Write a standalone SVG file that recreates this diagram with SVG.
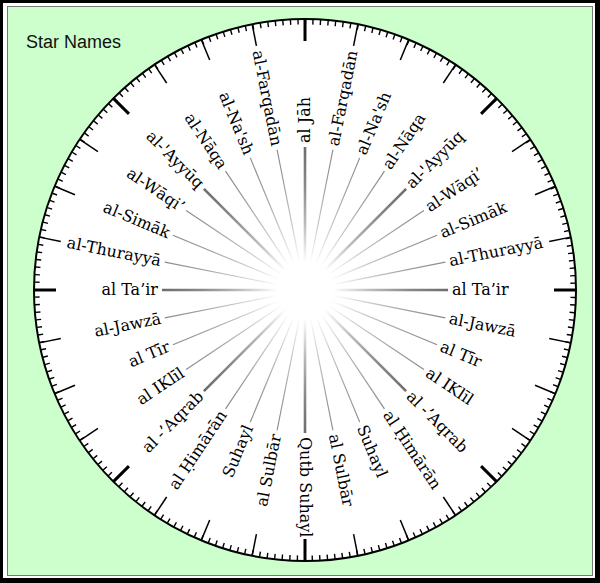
<svg xmlns="http://www.w3.org/2000/svg" width="600" height="583" viewBox="0 0 600 583">
<style>
.lbl{font-family:"DejaVu Serif","Liberation Serif",serif;font-size:16px;fill:#000;}
.r{text-anchor:start;}
.l{text-anchor:end;}
.title{font-family:"Liberation Sans",Arial,sans-serif;font-size:18px;fill:#111;}
.sp{stroke:#888;stroke-width:1.2;}
.sp.m{stroke:#6a6a6a;stroke-width:2.6;}
.tk{stroke:#000;stroke-width:1.5;}
.tk.m{stroke-width:3;}
</style>
<defs>
<radialGradient id="fade" cx="0.5" cy="0.5" r="0.5">
<stop offset="0.19" stop-color="#000"/>
<stop offset="0.25" stop-color="#1a1a1a"/>
<stop offset="0.45" stop-color="#737373"/>
<stop offset="0.72" stop-color="#cccccc"/>
<stop offset="1" stop-color="#fff"/>
</radialGradient>
<mask id="spokeMask" maskUnits="userSpaceOnUse" x="0" y="0" width="600" height="583">
<circle cx="305" cy="290" r="146" fill="url(#fade)"/>
</mask>
</defs>
<g id="frame">
<rect x="0" y="0" width="600" height="583" fill="#000"/>
<rect x="3" y="3" width="592" height="575" fill="#fff"/>
<rect x="7.5" y="6.5" width="585" height="569" fill="#ccffcc" stroke="#777" stroke-width="1"/>
</g>
<g id="title"><text class="title" x="26" y="48">Star Names</text></g>
<g id="dial">
<circle cx="305" cy="290" r="271" fill="#fff" stroke="#000" stroke-width="2"/>
<circle cx="305" cy="290" r="268" fill="none" stroke="#000" stroke-width="5" stroke-dasharray="1.4 6.1173" stroke-dashoffset="0.7"/>
<g id="ticks">
<line class="tk m" x1="554" y1="290" x2="576" y2="290" transform="rotate(0 305 290)"/>
<line class="tk" x1="554" y1="290" x2="576" y2="290" transform="rotate(11.25 305 290)"/>
<line class="tk" x1="554" y1="290" x2="576" y2="290" transform="rotate(22.5 305 290)"/>
<line class="tk" x1="554" y1="290" x2="576" y2="290" transform="rotate(33.75 305 290)"/>
<line class="tk m" x1="554" y1="290" x2="576" y2="290" transform="rotate(45 305 290)"/>
<line class="tk" x1="554" y1="290" x2="576" y2="290" transform="rotate(56.25 305 290)"/>
<line class="tk" x1="554" y1="290" x2="576" y2="290" transform="rotate(67.5 305 290)"/>
<line class="tk" x1="554" y1="290" x2="576" y2="290" transform="rotate(78.75 305 290)"/>
<line class="tk m" x1="554" y1="290" x2="576" y2="290" transform="rotate(90 305 290)"/>
<line class="tk" x1="554" y1="290" x2="576" y2="290" transform="rotate(101.25 305 290)"/>
<line class="tk" x1="554" y1="290" x2="576" y2="290" transform="rotate(112.5 305 290)"/>
<line class="tk" x1="554" y1="290" x2="576" y2="290" transform="rotate(123.75 305 290)"/>
<line class="tk m" x1="554" y1="290" x2="576" y2="290" transform="rotate(135 305 290)"/>
<line class="tk" x1="554" y1="290" x2="576" y2="290" transform="rotate(146.25 305 290)"/>
<line class="tk" x1="554" y1="290" x2="576" y2="290" transform="rotate(157.5 305 290)"/>
<line class="tk" x1="554" y1="290" x2="576" y2="290" transform="rotate(168.75 305 290)"/>
<line class="tk m" x1="554" y1="290" x2="576" y2="290" transform="rotate(180 305 290)"/>
<line class="tk" x1="554" y1="290" x2="576" y2="290" transform="rotate(191.25 305 290)"/>
<line class="tk" x1="554" y1="290" x2="576" y2="290" transform="rotate(202.5 305 290)"/>
<line class="tk" x1="554" y1="290" x2="576" y2="290" transform="rotate(213.75 305 290)"/>
<line class="tk m" x1="554" y1="290" x2="576" y2="290" transform="rotate(225 305 290)"/>
<line class="tk" x1="554" y1="290" x2="576" y2="290" transform="rotate(236.25 305 290)"/>
<line class="tk" x1="554" y1="290" x2="576" y2="290" transform="rotate(247.5 305 290)"/>
<line class="tk" x1="554" y1="290" x2="576" y2="290" transform="rotate(258.75 305 290)"/>
<line class="tk m" x1="554" y1="290" x2="576" y2="290" transform="rotate(270 305 290)"/>
<line class="tk" x1="554" y1="290" x2="576" y2="290" transform="rotate(281.25 305 290)"/>
<line class="tk" x1="554" y1="290" x2="576" y2="290" transform="rotate(292.5 305 290)"/>
<line class="tk" x1="554" y1="290" x2="576" y2="290" transform="rotate(303.75 305 290)"/>
<line class="tk m" x1="554" y1="290" x2="576" y2="290" transform="rotate(315 305 290)"/>
<line class="tk" x1="554" y1="290" x2="576" y2="290" transform="rotate(326.25 305 290)"/>
<line class="tk" x1="554" y1="290" x2="576" y2="290" transform="rotate(337.5 305 290)"/>
<line class="tk" x1="554" y1="290" x2="576" y2="290" transform="rotate(348.75 305 290)"/>
</g>
</g>
<g id="connectors" mask="url(#spokeMask)">
<line class="sp m" x1="325" y1="290" x2="448" y2="290" transform="rotate(0 305 290)"/>
<line class="sp" x1="325" y1="290" x2="448" y2="290" transform="rotate(11.25 305 290)"/>
<line class="sp" x1="325" y1="290" x2="448" y2="290" transform="rotate(22.5 305 290)"/>
<line class="sp" x1="325" y1="290" x2="448" y2="290" transform="rotate(33.75 305 290)"/>
<line class="sp m" x1="325" y1="290" x2="448" y2="290" transform="rotate(45 305 290)"/>
<line class="sp" x1="325" y1="290" x2="448" y2="290" transform="rotate(56.25 305 290)"/>
<line class="sp" x1="325" y1="290" x2="448" y2="290" transform="rotate(67.5 305 290)"/>
<line class="sp" x1="325" y1="290" x2="448" y2="290" transform="rotate(78.75 305 290)"/>
<line class="sp m" x1="325" y1="290" x2="448" y2="290" transform="rotate(90 305 290)"/>
<line class="sp" x1="325" y1="290" x2="448" y2="290" transform="rotate(101.25 305 290)"/>
<line class="sp" x1="325" y1="290" x2="448" y2="290" transform="rotate(112.5 305 290)"/>
<line class="sp" x1="325" y1="290" x2="448" y2="290" transform="rotate(123.75 305 290)"/>
<line class="sp m" x1="325" y1="290" x2="448" y2="290" transform="rotate(135 305 290)"/>
<line class="sp" x1="325" y1="290" x2="448" y2="290" transform="rotate(146.25 305 290)"/>
<line class="sp" x1="325" y1="290" x2="448" y2="290" transform="rotate(157.5 305 290)"/>
<line class="sp" x1="325" y1="290" x2="448" y2="290" transform="rotate(168.75 305 290)"/>
<line class="sp m" x1="325" y1="290" x2="448" y2="290" transform="rotate(180 305 290)"/>
<line class="sp" x1="325" y1="290" x2="448" y2="290" transform="rotate(191.25 305 290)"/>
<line class="sp" x1="325" y1="290" x2="448" y2="290" transform="rotate(202.5 305 290)"/>
<line class="sp" x1="325" y1="290" x2="448" y2="290" transform="rotate(213.75 305 290)"/>
<line class="sp m" x1="325" y1="290" x2="448" y2="290" transform="rotate(225 305 290)"/>
<line class="sp" x1="325" y1="290" x2="448" y2="290" transform="rotate(236.25 305 290)"/>
<line class="sp" x1="325" y1="290" x2="448" y2="290" transform="rotate(247.5 305 290)"/>
<line class="sp" x1="325" y1="290" x2="448" y2="290" transform="rotate(258.75 305 290)"/>
<line class="sp m" x1="325" y1="290" x2="448" y2="290" transform="rotate(270 305 290)"/>
<line class="sp" x1="325" y1="290" x2="448" y2="290" transform="rotate(281.25 305 290)"/>
<line class="sp" x1="325" y1="290" x2="448" y2="290" transform="rotate(292.5 305 290)"/>
<line class="sp" x1="325" y1="290" x2="448" y2="290" transform="rotate(303.75 305 290)"/>
<line class="sp m" x1="325" y1="290" x2="448" y2="290" transform="rotate(315 305 290)"/>
<line class="sp" x1="325" y1="290" x2="448" y2="290" transform="rotate(326.25 305 290)"/>
<line class="sp" x1="325" y1="290" x2="448" y2="290" transform="rotate(337.5 305 290)"/>
<line class="sp" x1="325" y1="290" x2="448" y2="290" transform="rotate(348.75 305 290)"/>
</g>
<g id="n-jah"><text class="lbl r" x="452" y="295" transform="rotate(-90 305 290)">al Jāh</text></g>
<g id="e-farqadan"><text class="lbl r" x="452" y="295" transform="rotate(-78.75 305 290)">al-Farqadān</text></g>
<g id="e-nash"><text class="lbl r" x="452" y="295" transform="rotate(-67.5 305 290)">al-Na'sh</text></g>
<g id="e-naqa"><text class="lbl r" x="452" y="295" transform="rotate(-56.25 305 290)">al-Nāqa</text></g>
<g id="e-ayyuq"><text class="lbl r" x="452" y="295" transform="rotate(-45 305 290)">al-'Ayyūq</text></g>
<g id="e-waqi"><text class="lbl r" x="452" y="295" transform="rotate(-33.75 305 290)">al-Wāqi’</text></g>
<g id="e-simak"><text class="lbl r" x="452" y="295" transform="rotate(-22.5 305 290)">al-Simāk</text></g>
<g id="e-thurayya"><text class="lbl r" x="452" y="295" transform="rotate(-11.25 305 290)">al-Thurayyā</text></g>
<g id="e-tair"><text class="lbl r" x="452" y="295">al Ta’ir</text></g>
<g id="e-jawza"><text class="lbl r" x="452" y="295" transform="rotate(11.25 305 290)">al-Jawzā</text></g>
<g id="e-tir"><text class="lbl r" x="452" y="295" transform="rotate(22.5 305 290)">al Tīr</text></g>
<g id="e-iklil"><text class="lbl r" x="452" y="295" transform="rotate(33.75 305 290)">al IKlīl</text></g>
<g id="e-aqrab"><text class="lbl r" x="452" y="295" transform="rotate(45 305 290)">al -’Aqrab</text></g>
<g id="e-himaran"><text class="lbl r" x="452" y="295" transform="rotate(56.25 305 290)">al Ḥimārān</text></g>
<g id="e-suhayl"><text class="lbl r" x="452" y="295" transform="rotate(67.5 305 290)">Suhayl</text></g>
<g id="e-sulbar"><text class="lbl r" x="452" y="295" transform="rotate(78.75 305 290)">al Sulbār</text></g>
<g id="s-qutb"><text class="lbl r" x="452" y="295" transform="rotate(90 305 290)">Qutb Suhayl</text></g>
<g id="w-farqadan"><text class="lbl l" x="158" y="295" transform="rotate(78.75 305 290)">al-Farqadān</text></g>
<g id="w-nash"><text class="lbl l" x="158" y="295" transform="rotate(67.5 305 290)">al-Na'sh</text></g>
<g id="w-naqa"><text class="lbl l" x="158" y="295" transform="rotate(56.25 305 290)">al-Nāqa</text></g>
<g id="w-ayyuq"><text class="lbl l" x="158" y="295" transform="rotate(45 305 290)">al-'Ayyūq</text></g>
<g id="w-waqi"><text class="lbl l" x="158" y="295" transform="rotate(33.75 305 290)">al-Wāqi’</text></g>
<g id="w-simak"><text class="lbl l" x="158" y="295" transform="rotate(22.5 305 290)">al-Simāk</text></g>
<g id="w-thurayya"><text class="lbl l" x="158" y="295" transform="rotate(11.25 305 290)">al-Thurayyā</text></g>
<g id="w-tair"><text class="lbl l" x="158" y="295">al Ta’ir</text></g>
<g id="w-jawza"><text class="lbl l" x="158" y="295" transform="rotate(-11.25 305 290)">al-Jawzā</text></g>
<g id="w-tir"><text class="lbl l" x="158" y="295" transform="rotate(-22.5 305 290)">al Tīr</text></g>
<g id="w-iklil"><text class="lbl l" x="158" y="295" transform="rotate(-33.75 305 290)">al IKlīl</text></g>
<g id="w-aqrab"><text class="lbl l" x="158" y="295" transform="rotate(-45 305 290)">al -’Aqrab</text></g>
<g id="w-himaran"><text class="lbl l" x="158" y="295" transform="rotate(-56.25 305 290)">al Ḥimārān</text></g>
<g id="w-suhayl"><text class="lbl l" x="158" y="295" transform="rotate(-67.5 305 290)">Suhayl</text></g>
<g id="w-sulbar"><text class="lbl l" x="158" y="295" transform="rotate(-78.75 305 290)">al Sulbār</text></g>
</svg>
